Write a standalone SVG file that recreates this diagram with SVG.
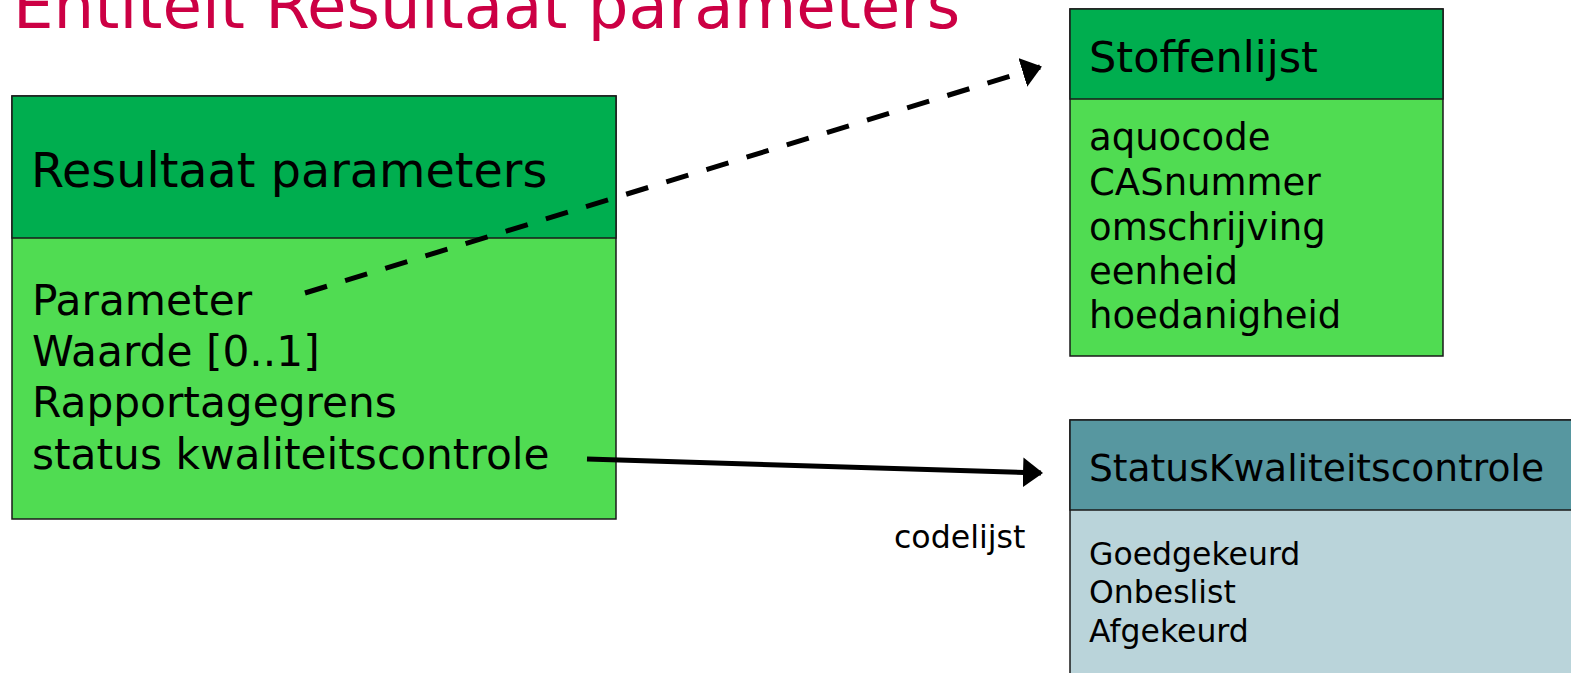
<svg xmlns="http://www.w3.org/2000/svg" width="1571" height="673" viewBox="0 0 1571 673">
<style>
text{font-family:"DejaVu Sans",Verdana,sans-serif;fill:#000}
.box{stroke:#1a1a1a;stroke-width:1.5}
.hg{fill:#00AE4F}
.bg{fill:#50DC52}
.hb{fill:#5797A0}
.bb{fill:#BAD4DA}
.conn{stroke:#000;stroke-width:5;fill:none}
</style>
<defs>
<marker id="ah" viewBox="0 0 20 30" refX="18" refY="15" markerWidth="20" markerHeight="30" markerUnits="userSpaceOnUse" orient="auto">
<path d="M0,0 L20,15 L0,30 Z" fill="#000"/>
</marker>
</defs>
<rect width="1571" height="673" fill="#fff"/>
<text x="13" y="28" font-size="64.2" style="fill:#CC0044">Entiteit Resultaat parameters</text>

<g id="resultaat">
<rect class="box bg" x="12" y="96" width="604" height="423"/>
<rect class="box hg" x="12" y="96" width="604" height="142"/>
<text x="31" y="187" font-size="47.7">Resultaat parameters</text>
<text x="32" y="315" font-size="42.3">Parameter</text>
<text x="32" y="366" font-size="42.3">Waarde [0..1]</text>
<text x="32" y="417" font-size="42.3">Rapportagegrens</text>
<text x="32" y="469" font-size="42.3">status kwaliteitscontrole</text>
</g>

<g id="stoffenlijst">
<rect class="box bg" x="1070" y="9" width="373" height="347"/>
<rect class="box hg" x="1070" y="9" width="373" height="90"/>
<text x="1089" y="72" font-size="43">Stoffenlijst</text>
<text x="1089" y="150" font-size="37">aquocode</text>
<text x="1089" y="195" font-size="37">CASnummer</text>
<text x="1089" y="240" font-size="37">omschrijving</text>
<text x="1089" y="284" font-size="37">eenheid</text>
<text x="1089" y="328" font-size="37">hoedanigheid</text>
</g>

<g id="statuskwaliteitscontrole">
<rect class="box bb" x="1070" y="420" width="520" height="270"/>
<rect class="box hb" x="1070" y="420" width="520" height="90"/>
<text x="1089" y="481" font-size="37.6">StatusKwaliteitscontrole</text>
<text x="1089" y="565" font-size="31.5">Goedgekeurd</text>
<text x="1089" y="603" font-size="31.5">Onbeslist</text>
<text x="1089" y="642" font-size="31.5">Afgekeurd</text>
</g>

<g id="connectors">
<path class="conn" d="M305,293 L1040,67" stroke-dasharray="23,19" marker-end="url(#ah)"/>
<path class="conn" d="M587,459 L1041,473" marker-end="url(#ah)"/>
<text x="894" y="548" font-size="31.6">codelijst</text>
</g>
</svg>
